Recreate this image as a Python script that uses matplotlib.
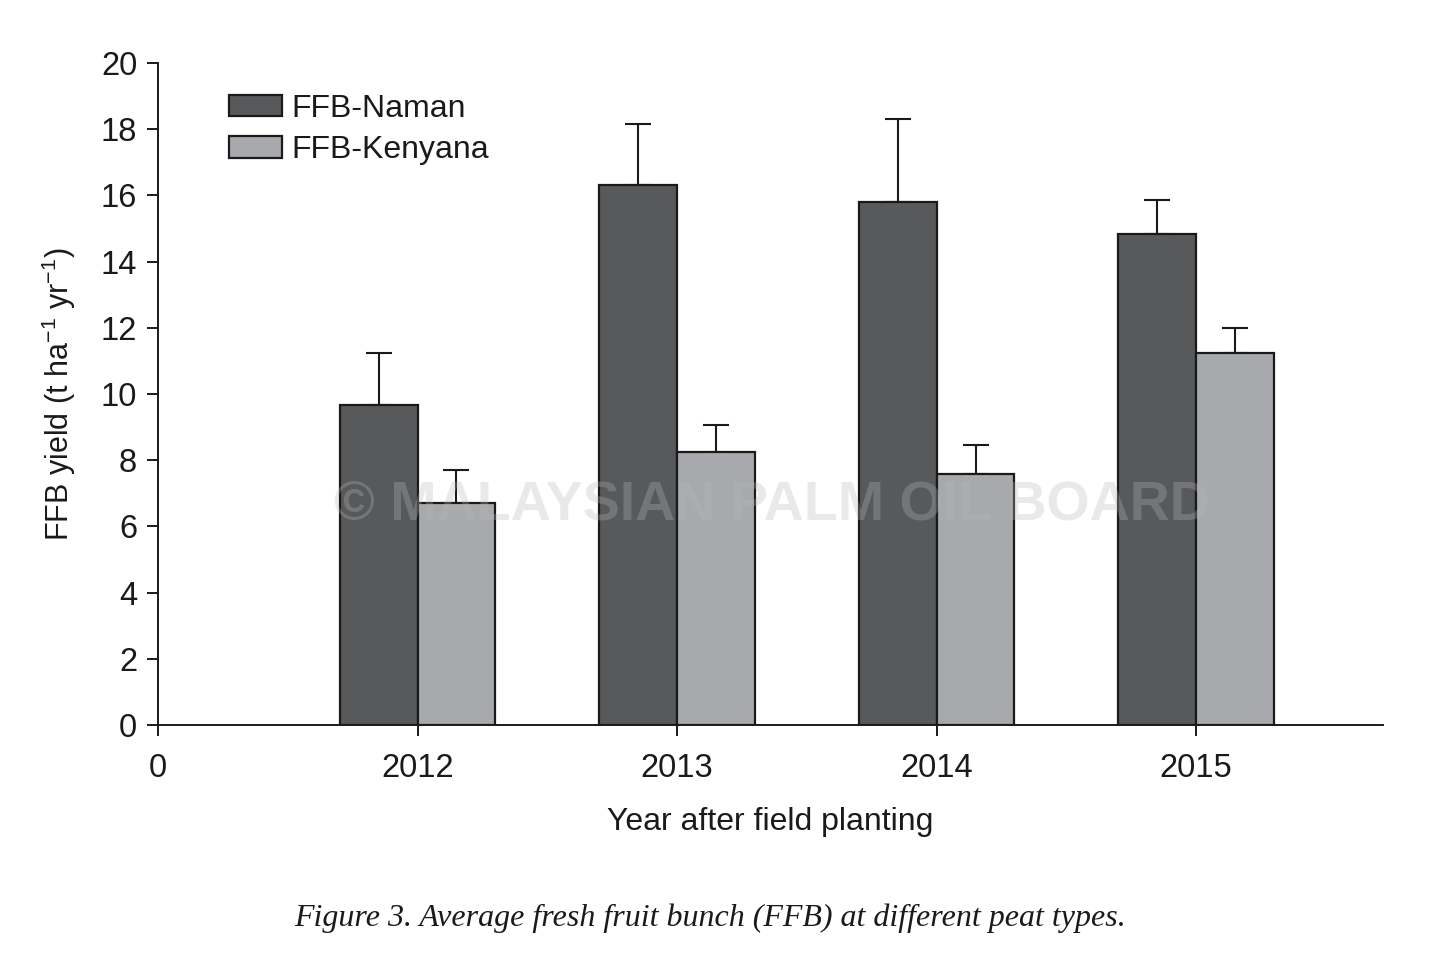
import matplotlib
matplotlib.use("Agg")
import matplotlib.pyplot as plt
import numpy as np

years = ["2012", "2013", "2014", "2015"]
naman = [9.67, 16.31, 15.80, 14.83]
naman_err = [1.57, 1.85, 2.51, 1.03]
kenyana = [6.71, 8.25, 7.58, 11.24]
kenyana_err = [0.99, 0.81, 0.88, 0.75]
x_ticks = [0, 1, 2, 3, 4]
x_ticklabels = ["0"] + years
y_ticks = list(range(0, 21, 2))

plt.rcParams['font.family'] = ['Liberation Sans', 'DejaVu Sans']
plt.rcParams['mathtext.default'] = 'regular'

fig = plt.figure(figsize=(14.34, 9.74), dpi=100)
ax = fig.add_axes([158/1434, 1-725/974, (1383-158)/1434, (725-63)/974])

pos = np.arange(1, len(years)+1)
w = 0.30
ax.bar(pos - w/2, naman, width=w, color='#58595b', edgecolor='#1a1a1a', linewidth=1.6,
       label='FFB-Naman', zorder=2)
ax.bar(pos + w/2, kenyana, width=w, color='#a7a9ac', edgecolor='#1a1a1a', linewidth=1.6,
       label='FFB-Kenyana', zorder=2)
ax.errorbar(pos - w/2, naman, yerr=[np.zeros(4), naman_err], fmt='none', ecolor='#1a1a1a',
            elinewidth=1.5, capsize=9.5, capthick=1.5, zorder=1)
ax.errorbar(pos + w/2, kenyana, yerr=[np.zeros(4), kenyana_err], fmt='none', ecolor='#1a1a1a',
            elinewidth=1.5, capsize=9.5, capthick=1.5, zorder=1)

ax.set_xlim(0, 4.72)
ax.set_ylim(0, 20)
ax.set_xticks(x_ticks)
ax.set_xticklabels(x_ticklabels)
ax.set_yticks(y_ticks)
ax.tick_params(axis='both', labelsize=23.5, length=8, width=1.4, color='#1a1a1a', labelcolor='#1a1a1a', direction='out')
ax.tick_params(axis='y', pad=7)
ax.tick_params(axis='x', pad=12)
for s in ['top', 'right']:
    ax.spines[s].set_visible(False)
for s in ['left', 'bottom']:
    ax.spines[s].set_linewidth(1.4)
    ax.spines[s].set_color('#1a1a1a')

ax.set_xlabel('Year after field planting', fontsize=23, color='#1a1a1a', labelpad=17)
ax.set_ylabel('FFB yield (t ha$^{-1}$ yr$^{-1}$)', fontsize=22, color='#1a1a1a', labelpad=16)

leg = ax.legend(loc='upper left', bbox_to_anchor=(0.0477, 0.9726), frameon=False, fontsize=23,
                handlelength=1.66, handleheight=0.66, handletextpad=0.3, labelspacing=0.35,
                borderaxespad=0)
for t in leg.get_texts():
    t.set_color('#1a1a1a')

# watermark
fig.text(772/1434, 1-505/974, '\u00a9 MALAYSIAN PALM OIL BOARD', fontsize=40, fontweight='bold',
         color='#b8b8b8', alpha=0.3, ha='center', va='center', zorder=10)

fig.text(710/1434, 1-918/974, 'Figure 3. Average fresh fruit bunch (FFB) at different peat types.',
         family=['Liberation Serif', 'DejaVu Serif'], style='italic', fontsize=23,
         color='#1a1a1a', ha='center', va='center')

fig.savefig('out.png', dpi=100)
